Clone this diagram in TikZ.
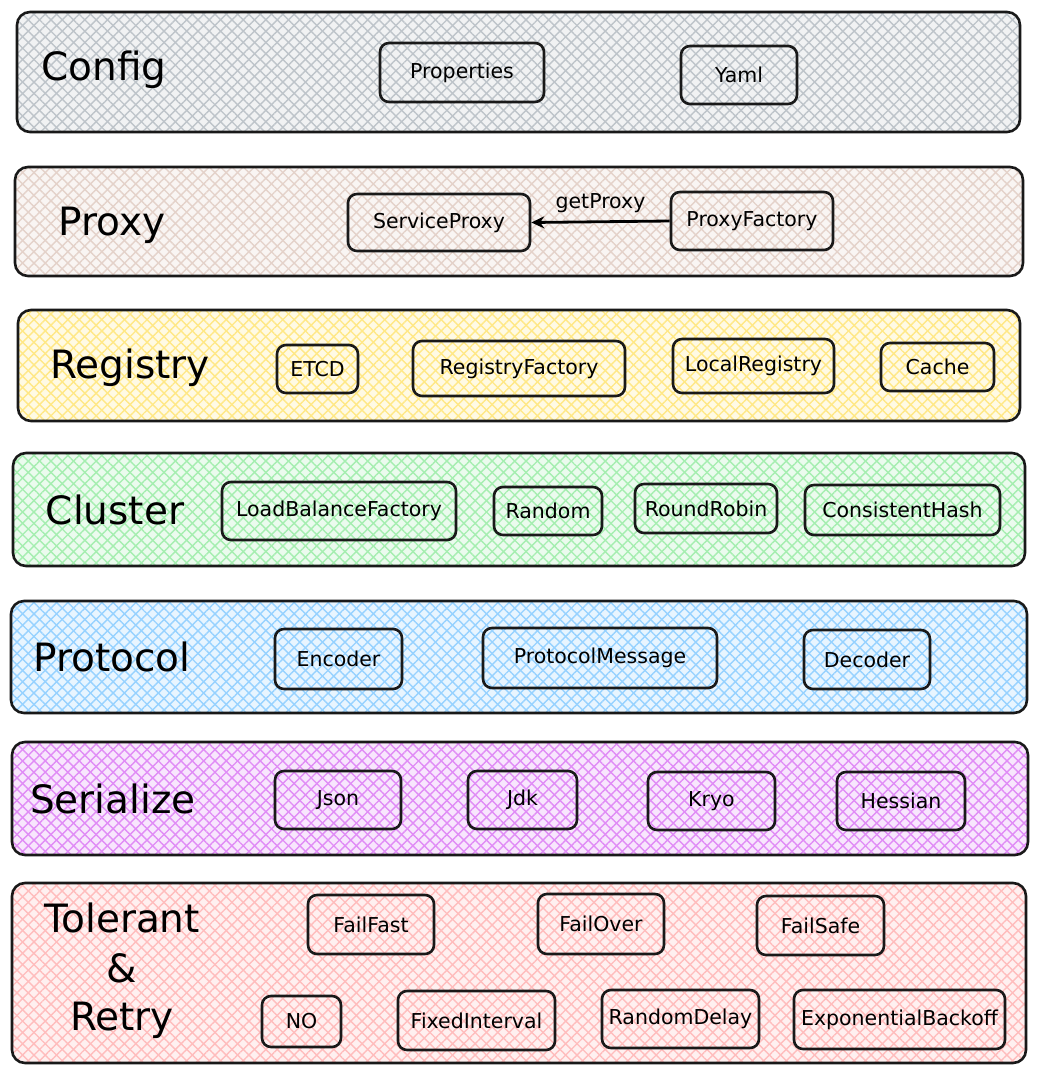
\documentclass[tikz,border=0pt]{standalone}
\usepackage{fontspec}
\setmainfont{DejaVu Sans}
\usetikzlibrary{patterns.meta,arrows.meta}
\definecolor{cgray}{HTML}{BEC4CA}
\definecolor{cbeige}{HTML}{E4D2CA}
\definecolor{cyellow}{HTML}{FFE886}
\definecolor{cgreen}{HTML}{A5EEB0}
\definecolor{cblue}{HTML}{97D2FF}
\definecolor{cpurple}{HTML}{E08CF6}
\definecolor{cred}{HTML}{FFBDBD}
\tikzset{
  band/.style={draw=black!90, line width=2.6pt, rounded corners=13pt, inner sep=0pt,
    preaction={fill=#1!22!white},
    preaction={pattern={Lines[angle=45,distance=8pt,line width=1.4pt]}, pattern color=#1},
    preaction={pattern={Lines[angle=-45,distance=8pt,line width=1.4pt]}, pattern color=#1}},
  ibox/.style={draw=black!90, line width=2.6pt, rounded corners=9pt, inner sep=0pt, font=\fontsize{20.5}{22}\selectfont},
  blabel/.style={font=\fontsize{39}{42}\selectfont, inner sep=0pt},
}
\begin{document}
\begin{tikzpicture}[x=1pt,y=-1pt]
\fill[white] (0,0) rectangle (1037,1089);
\useasboundingbox (0,0) rectangle (1037,1089);
% bands
\node[band=cgray, minimum width=1003pt, minimum height=120pt] (b1) at (518.5,72) {};
\node[band=cbeige, minimum width=1008pt, minimum height=109pt] (b2) at (519,221.5) {};
\node[band=cyellow, minimum width=1002pt, minimum height=111pt] (b3) at (519,365.5) {};
\node[band=cgreen, minimum width=1012pt, minimum height=113pt] (b4) at (519,509.5) {};
\node[band=cblue, minimum width=1016pt, minimum height=112pt] (b5) at (519,657) {};
\node[band=cpurple, minimum width=1016pt, minimum height=113pt] (b6) at (520,798.5) {};
\node[band=cred, minimum width=1014pt, minimum height=180pt] (b7) at (519,973) {};
% labels
\node[blabel] (l1) at (104,70) {Config};
\node[blabel] (l2) at (112,225) {Proxy};
\node[blabel] (l3) at (130,368) {Registry};
\node[blabel] (l4) at (115,510) {Cluster};
\node[blabel] (l5) at (112,657) {Protocol};
\node[blabel] (l6) at (113,799) {Serialize};
\node[blabel] (l7a) at (122,918) {Tolerant};
\node[blabel] (l7b) at (122,968) {\&};
\node[blabel] (l7c) at (122,1020) {Retry};
% config
\node[ibox, minimum width=164pt, minimum height=59pt] (prop) at (462,72.5) {Properties};
\node[ibox, minimum width=116pt, minimum height=58pt] (yaml) at (739,75) {Yaml};
% proxy
\node[ibox, minimum width=182pt, minimum height=57pt] (sp) at (439,222.5) {ServiceProxy};
\node[ibox, minimum width=162pt, minimum height=58pt] (pf) at (752,221) {ProxyFactory};
\draw[line width=2.8pt, -{Stealth[length=13pt,width=12pt]}] (pf.west) -- (sp.east) node[midway, above=8pt, font=\fontsize{20.5}{22}\selectfont, inner sep=0pt] (gp) {getProxy};
% registry
\node[ibox, minimum width=81pt, minimum height=48pt] (etcd) at (317.5,369) {ETCD};
\node[ibox, minimum width=212pt, minimum height=55pt] (rf) at (519,368.5) {RegistryFactory};
\node[ibox, minimum width=161pt, minimum height=54pt] (lr) at (753.5,366) {LocalRegistry};
\node[ibox, minimum width=113pt, minimum height=48pt] (cache) at (937.5,367) {Cache};
% cluster
\node[ibox, minimum width=234pt, minimum height=58pt] (lbf) at (339,511) {LoadBalanceFactory};
\node[ibox, minimum width=108pt, minimum height=48pt] (rand) at (548,511) {Random};
\node[ibox, minimum width=142pt, minimum height=49pt] (rr) at (706,508.5) {RoundRobin};
\node[ibox, minimum width=195pt, minimum height=50pt] (ch) at (902.5,510) {ConsistentHash};
% protocol
\node[ibox, minimum width=127pt, minimum height=60pt] (enc) at (338.5,659) {Encoder};
\node[ibox, minimum width=234pt, minimum height=60pt] (pm) at (600,658) {ProtocolMessage};
\node[ibox, minimum width=126pt, minimum height=59pt] (dec) at (867,659.5) {Decoder};
% serialize
\node[ibox, minimum width=126pt, minimum height=58pt] (json) at (338,800) {Json};
\node[ibox, minimum width=109pt, minimum height=58pt] (jdk) at (522.5,800) {Jdk};
\node[ibox, minimum width=127pt, minimum height=58pt] (kryo) at (711.5,801) {Kryo};
\node[ibox, minimum width=128pt, minimum height=58pt] (hess) at (901,801) {Hessian};
% tolerant
\node[ibox, minimum width=126pt, minimum height=59pt] (ff) at (371,924.5) {FailFast};
\node[ibox, minimum width=126pt, minimum height=60pt] (fo) at (601,924) {FailOver};
\node[ibox, minimum width=127pt, minimum height=59pt] (fs) at (820.5,925.5) {FailSafe};
\node[ibox, minimum width=79pt, minimum height=51pt] (no) at (301.5,1021.5) {NO};
\node[ibox, minimum width=157pt, minimum height=59pt] (fi) at (476.5,1020.5) {FixedInterval};
\node[ibox, minimum width=157pt, minimum height=58pt] (rd) at (680.5,1019) {RandomDelay};
\node[ibox, minimum width=211pt, minimum height=59pt] (eb) at (899.5,1019.5) {ExponentialBackoff};
\end{tikzpicture}
\end{document}
